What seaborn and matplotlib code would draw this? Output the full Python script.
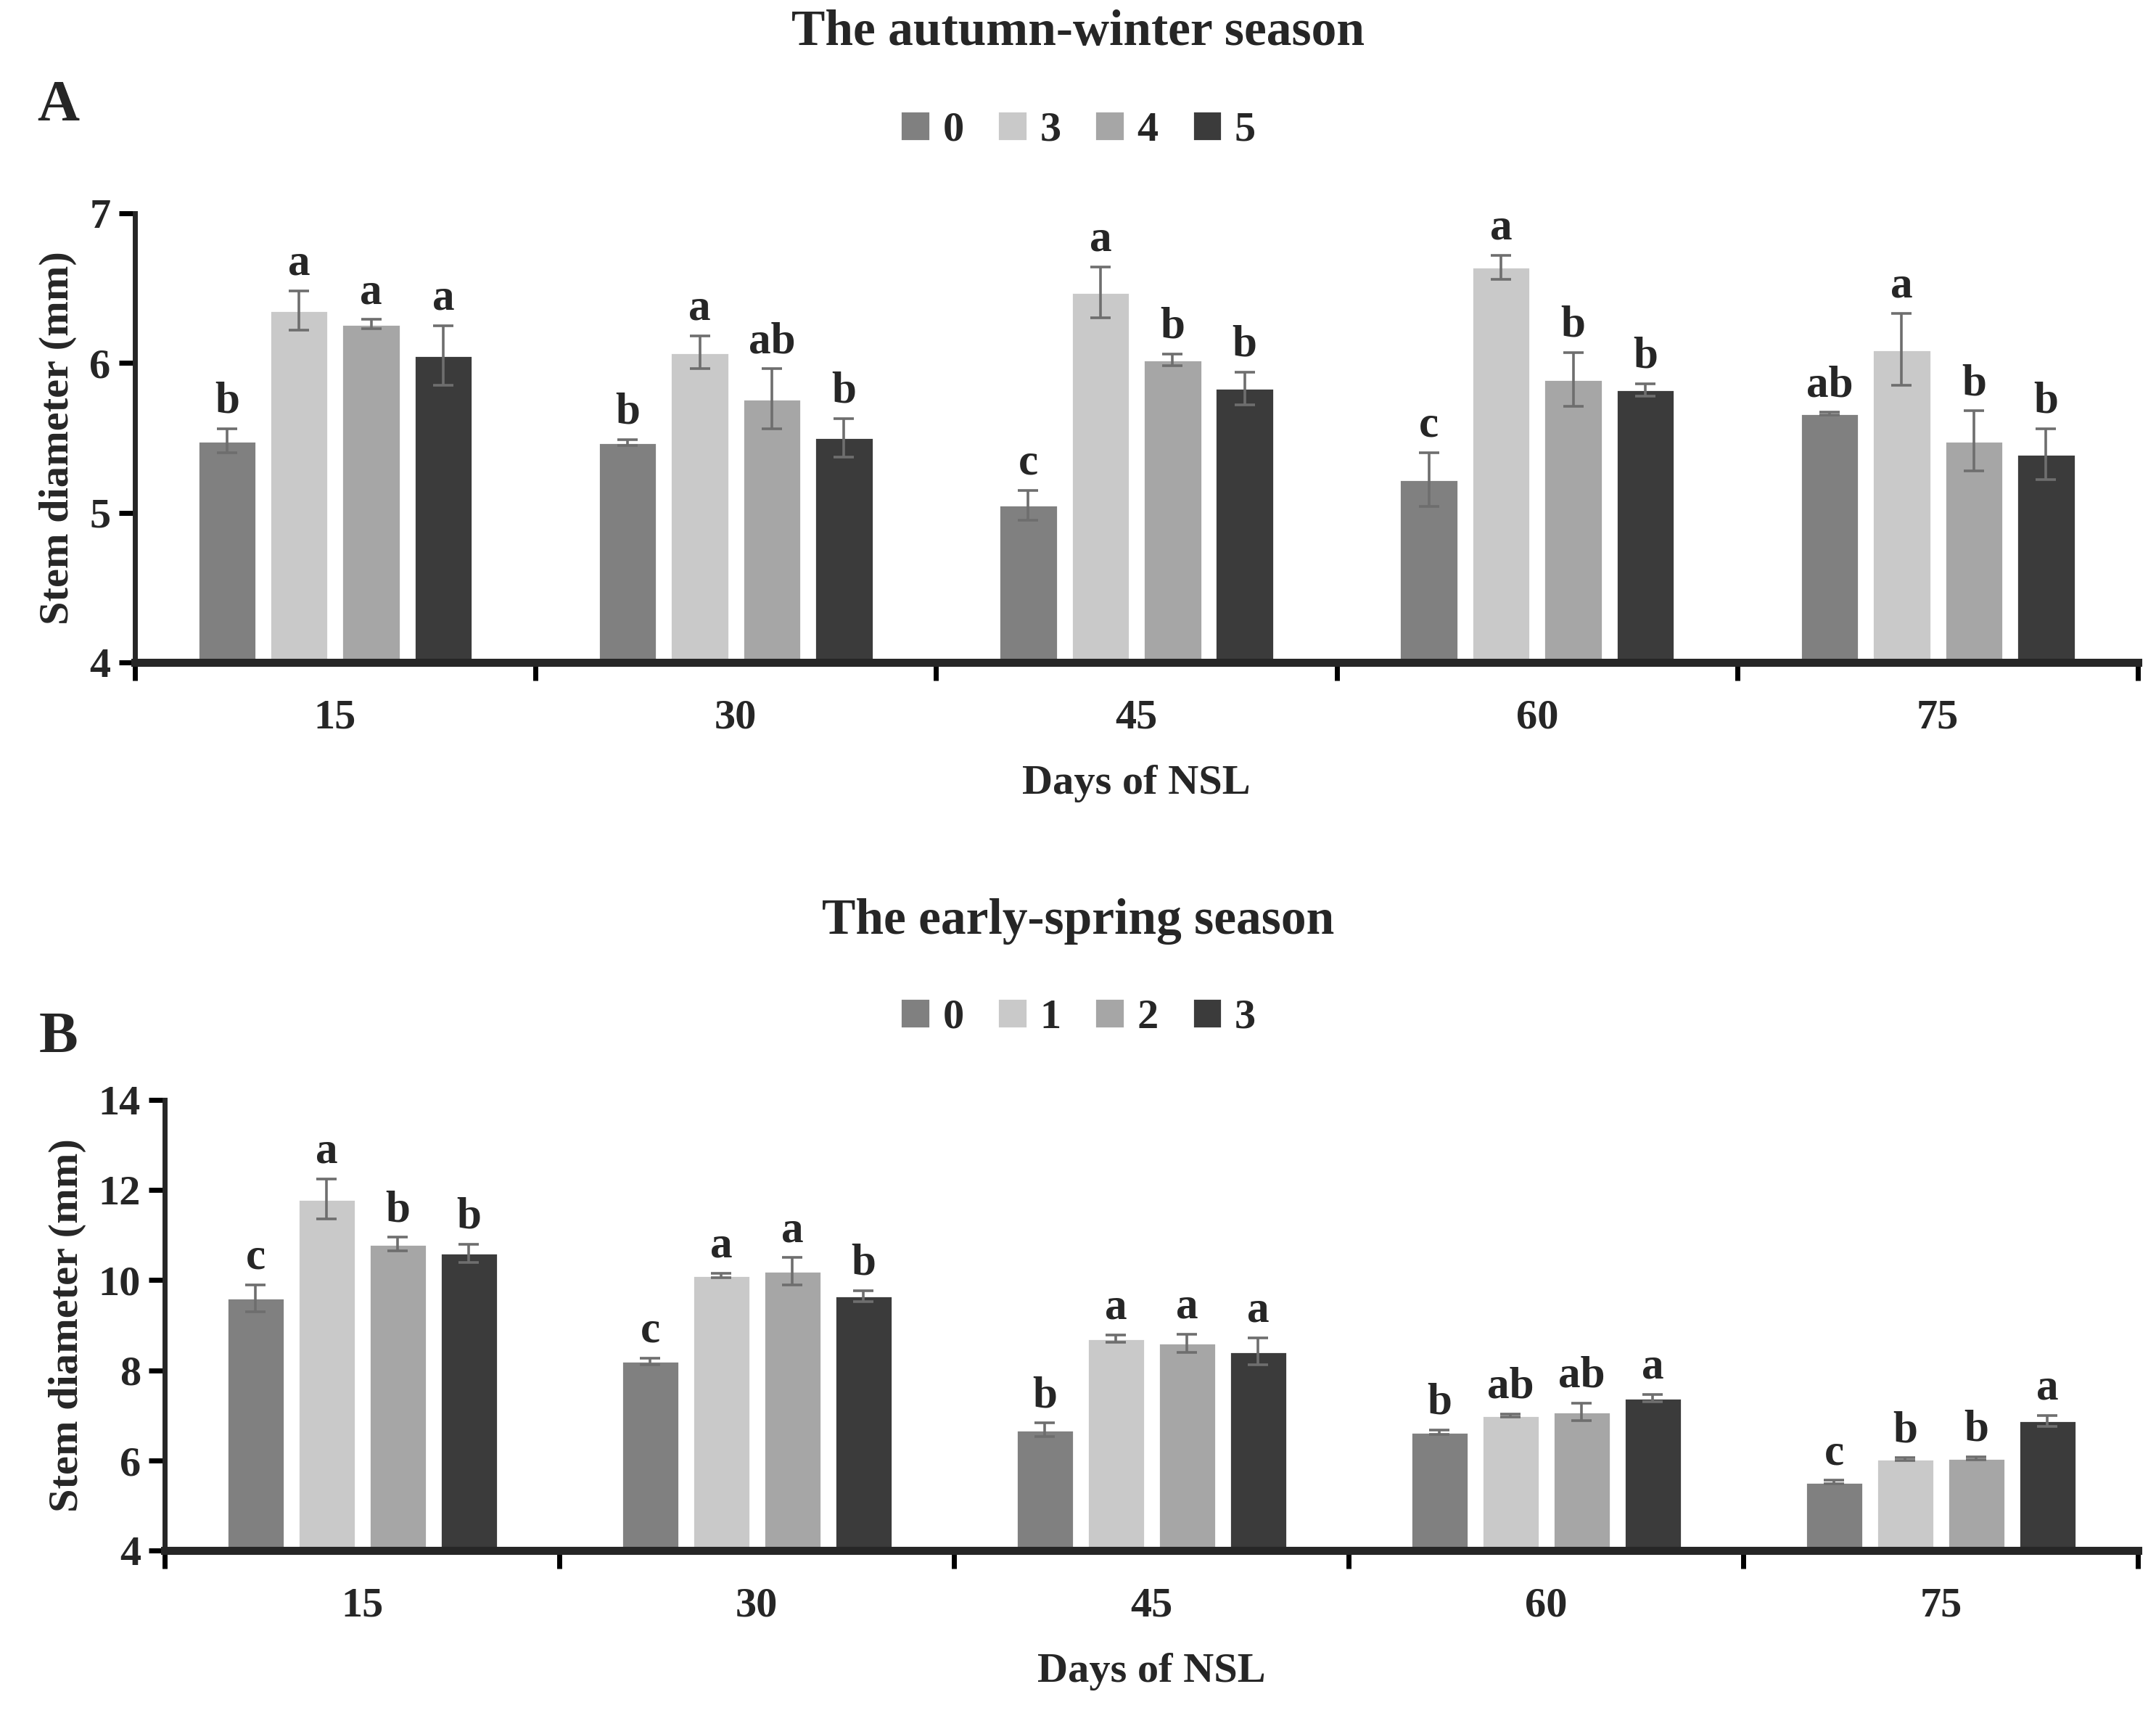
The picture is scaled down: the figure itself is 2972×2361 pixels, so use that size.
import pandas as pd
import numpy as np
import matplotlib
matplotlib.use("Agg")
import matplotlib.pyplot as plt
import seaborn as sns

# ---- data
days = ["15", "30", "45", "60", "75"]

# panel A, autumn-winter (levels 0,3,4,5)
a_levels = ["0", "3", "4", "5"]
a_means = [
    [5.48, 5.47, 5.05, 5.22, 5.66],
    [6.35, 6.07, 6.47, 6.64, 6.09],
    [6.26, 5.76, 6.02, 5.89, 5.48],
    [6.05, 5.50, 5.83, 5.82, 5.39],
]
a_err = [
    [0.08, 0.02, 0.10, 0.18, 0.01],
    [0.13, 0.11, 0.17, 0.08, 0.24],
    [0.03, 0.20, 0.04, 0.18, 0.20],
    [0.20, 0.13, 0.11, 0.04, 0.17],
]
a_letters = [
    ["b", "b", "c", "c", "ab"],
    ["a", "a", "a", "a", "a"],
    ["a", "ab", "b", "b", "b"],
    ["a", "b", "b", "b", "b"],
]

# panel B, early-spring (levels 0,1,2,3)
b_levels = ["0", "1", "2", "3"]
b_means = [
    [9.60, 8.20, 6.68, 6.63, 5.52],
    [11.80, 10.10, 8.70, 7.00, 6.03],
    [10.80, 10.20, 8.60, 7.08, 6.05],
    [10.60, 9.65, 8.42, 7.38, 6.88],
]
b_err = [
    [0.30, 0.07, 0.15, 0.05, 0.04],
    [0.45, 0.05, 0.08, 0.03, 0.03],
    [0.15, 0.30, 0.20, 0.20, 0.03],
    [0.20, 0.12, 0.30, 0.08, 0.12],
]
b_letters = [
    ["c", "c", "b", "b", "c"],
    ["a", "a", "a", "ab", "b"],
    ["b", "a", "a", "ab", "b"],
    ["b", "b", "a", "a", "a"],
]

bar_colors = ["#808080", "#c9c9c9", "#a6a6a6", "#3b3b3b"]

sns.set_style("white")
plt.rcParams["font.family"] = ["Liberation Serif", "DejaVu Serif"]
plt.rcParams["font.weight"] = "bold"


def long_frame(levels, means, errs, letters):
    rows = []
    for i, lev in enumerate(levels):
        for j, d in enumerate(days):
            rows.append({"Days": d, "Level": lev, "mean": means[i][j],
                         "err": errs[i][j], "letter": letters[i][j]})
    return pd.DataFrame(rows)


def panel(ax, df, levels, ylim, yticks, title, title_y, tag, tag_y, leg_y):
    sns.barplot(data=df, x="Days", y="mean", hue="Level", order=days,
                hue_order=levels, palette=bar_colors, errorbar=None,
                width=0.72, gap=0.19, saturation=1, ax=ax, legend=True)
    span = ylim[1] - ylim[0]
    bars = list(ax.containers)
    for i, cont in enumerate(bars):
        sub = df[df.Level == levels[i]].set_index("Days").loc[days]
        for j, p in enumerate(cont.patches):
            xc = p.get_x() + p.get_width() / 2
            m = sub["mean"].iloc[j]
            e = sub["err"].iloc[j]
            ax.errorbar(xc, m, yerr=e, fmt="none", ecolor="#6e6e6e",
                        elinewidth=1.3, capsize=5, capthick=1.3)
            ax.text(xc, m + e + span * 0.015, sub["letter"].iloc[j],
                    ha="center", va="bottom", fontsize=22, fontweight="bold")

    ax.set_ylim(*ylim)
    ax.set_yticks(yticks)
    ax.set_xlim(-0.5, 4.5)
    ax.set_xticks(range(5))
    ax.set_xticks(np.arange(-0.5, 5, 1), minor=True)
    ax.tick_params(axis="x", which="major", length=0, pad=18, labelsize=21)
    ax.tick_params(axis="x", which="minor", length=9, width=2.5,
                   direction="out", color="black", bottom=True)
    ax.tick_params(axis="y", length=8, width=2.5, direction="out",
                   labelsize=21, color="black", left=True, pad=4)
    for lab in ax.get_xticklabels() + ax.get_yticklabels():
        lab.set_fontweight("bold")
    sns.despine(ax=ax)
    ax.spines["left"].set_linewidth(2.5)
    ax.spines["bottom"].set_linewidth(4)
    ax.set_xlabel("Days of NSL", fontsize=21, fontweight="bold", labelpad=14)
    ax.set_ylabel("Stem diameter (mm)", fontsize=21, fontweight="bold",
                  labelpad=6)

    h, l = ax.get_legend_handles_labels()
    ax.legend(h, l, loc="center", bbox_to_anchor=(0.5, leg_y),
              bbox_transform=ax.figure.transFigure, ncol=4, frameon=False,
              handlelength=0.7, handleheight=0.7,
              handletextpad=0.3, columnspacing=0.8,
              prop={"weight": "bold", "size": 21})
    ax.figure.text(0.5, title_y, title, ha="center", va="center",
                   fontsize=25, fontweight="bold")
    ax.figure.text(0.027, tag_y, tag, ha="center", va="center",
                   fontsize=29, fontweight="bold")


fig = plt.figure(figsize=(14.86, 11.805), dpi=200)
ax1 = fig.add_axes([0.0625, 0.6132, 0.9292, 0.2624])
ax2 = fig.add_axes([0.0765, 0.0947, 0.9152, 0.2633])

panel(ax1, long_frame(a_levels, a_means, a_err, a_letters), a_levels,
      (4, 7), [4, 5, 6, 7], "The autumn-winter season", 0.981,
      "A", 0.938, 0.924)
panel(ax2, long_frame(b_levels, b_means, b_err, b_letters), b_levels,
      (4, 14), [4, 6, 8, 10, 12, 14], "The early-spring season", 0.462,
      "B", 0.394, 0.406)

fig.savefig("out.png", dpi=200)
